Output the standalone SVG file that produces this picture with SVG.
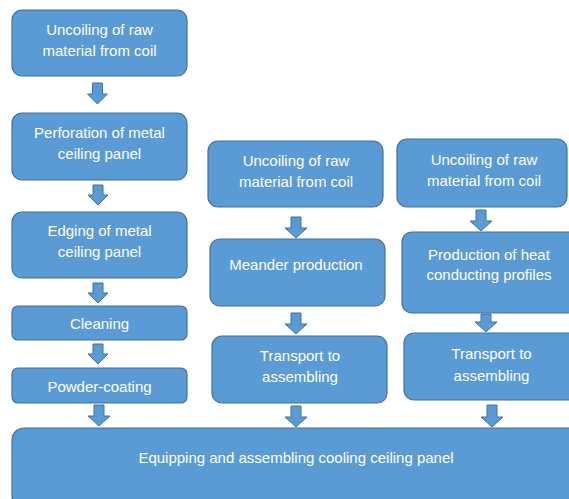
<svg xmlns="http://www.w3.org/2000/svg" width="569" height="499" viewBox="0 0 569 499">
<style>
.box{fill:#5b9bd5;stroke:#41719c;stroke-width:1.2}
.arr{fill:#5b9bd5;stroke:#41719c;stroke-width:1}
text{font-family:"Liberation Sans",Arial,sans-serif;font-size:15px;fill:#ffffff;text-anchor:middle}
</style>
<rect width="569" height="499" fill="#ffffff"/>
<g id="connectors">
<polygon class="arr" points="92.5,83 102.5,83 102.5,94 107.5,94 97.5,104 87.5,94 92.5,94"/>
<polygon class="arr" points="93,185 103,185 103,195 108,195 98,205 88,195 93,195"/>
<polygon class="arr" points="93,283 103,283 103,293 108,293 98,303 88,293 93,293"/>
<polygon class="arr" points="93,344 103,344 103,354 108,354 98,364 88,354 93,354"/>
<polygon class="arr" points="94,405 104,405 104,416 110,416 99,426 88,416 94,416"/>
<polygon class="arr" points="291,217 301,217 301,228 307,228 296,238 285,228 291,228"/>
<polygon class="arr" points="291,313 301,313 301,324 307,324 296,334 285,324 291,324"/>
<polygon class="arr" points="291,406 301,406 301,417 307,417 296,427 285,417 291,417"/>
<polygon class="arr" points="476,210 486,210 486,221 492,221 481,231 470,221 476,221"/>
<polygon class="arr" points="481,314 491,314 491,322 497,322 486,332 475,322 481,322"/>
<polygon class="arr" points="487,405 497,405 497,417 503,417 492,427 481,417 487,417"/>
</g>
<g id="n1"><rect class="box" x="12" y="10" width="175" height="66" rx="10"/><text x="99.5" y="35">Uncoiling of raw</text><text x="99.5" y="56">material from coil</text></g>
<g id="n2"><rect class="box" x="12" y="113" width="175" height="67" rx="10"/><text x="99.5" y="138">Perforation of metal</text><text x="99.5" y="159">ceiling panel</text></g>
<g id="n3"><rect class="box" x="12" y="212" width="175" height="66" rx="10"/><text x="99.5" y="236">Edging of metal</text><text x="99.5" y="257">ceiling panel</text></g>
<g id="n4"><rect class="box" x="12" y="306" width="175" height="34" rx="6"/><text x="99.5" y="329">Cleaning</text></g>
<g id="n5"><rect class="box" x="12" y="368" width="175" height="35" rx="6"/><text x="99.5" y="392">Powder-coating</text></g>
<g id="n6"><rect class="box" x="208" y="141" width="175" height="66" rx="10"/><text x="296" y="166">Uncoiling of raw</text><text x="296" y="187">material from coil</text></g>
<g id="n7"><rect class="box" x="210" y="239" width="175" height="67" rx="10"/><text x="296" y="270">Meander production</text></g>
<g id="n8"><rect class="box" x="212" y="336" width="175" height="67" rx="10"/><text x="300" y="361">Transport to</text><text x="300" y="382">assembling</text></g>
<g id="n9"><rect class="box" x="397" y="139" width="170" height="68" rx="10"/><text x="484" y="165">Uncoiling of raw</text><text x="484" y="186">material from coil</text></g>
<g id="n10"><rect class="box" x="402" y="232" width="175" height="81" rx="10"/><text x="489" y="260">Production of heat</text><text x="489" y="280">conducting profiles</text></g>
<g id="n11"><rect class="box" x="404" y="333" width="175" height="67" rx="10"/><text x="491.5" y="359">Transport to</text><text x="491.5" y="381">assembling</text></g>
<g id="n12"><rect class="box" x="12" y="428" width="570" height="80" rx="12"/><text x="296" y="463">Equipping and assembling cooling ceiling panel</text></g>
</svg>
